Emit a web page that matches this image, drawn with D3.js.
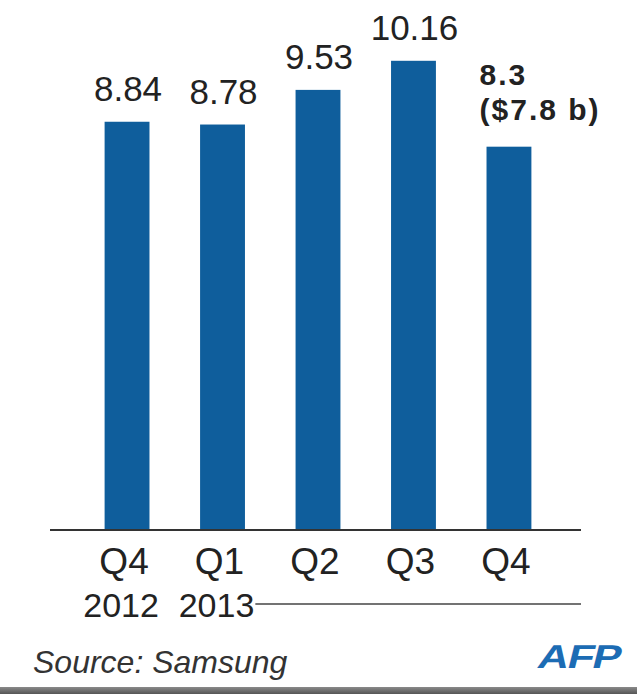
<!DOCTYPE html>
<html>
<head>
<meta charset="utf-8">
<script src="https://d3js.org/d3.v7.min.js"></script>
<style>
  body { margin: 0; background: #fff; }
  text { font-family: "Liberation Sans", Arial, sans-serif; fill: #222; }
</style>
</head>
<body>
<div id="chart"></div>
<script>
// data
var quarters = ["Q4", "Q1", "Q2", "Q3", "Q4"];
var years = ["2012", "2013", "", "", ""];
var profit = [8.84, 8.78, 9.53, 10.16, 8.3];
var valueLabels = ["8.84", "8.78", "9.53", "10.16", "8.3"];
var lastNote = "($7.8 b)";
var source = "Source: Samsung";

var width = 637, height = 694;
var baseY = 530;

var svg = d3.select("#chart")
  .append("svg")
    .attr("width", width)
    .attr("height", height);

var x = d3.scaleBand()
  .domain(d3.range(quarters.length))
  .range([54, 582])
  .padding(0.53);

var y = d3.scaleLinear()
  .domain([0, 11])
  .range([baseY, 22]);

// bars
svg.selectAll("rect.bar")
  .data(profit)
  .enter()
  .append("rect")
    .attr("class", "bar")
    .attr("x", function(d, i) { return x(i); })
    .attr("width", x.bandwidth())
    .attr("y", function(d) { return y(d); })
    .attr("height", function(d) { return y(0) - y(d); })
    .attr("fill", "#0f5e9c");

// baseline
svg.append("line")
  .attr("x1", 50).attr("x2", 581)
  .attr("y1", baseY).attr("y2", baseY)
  .attr("stroke", "#333")
  .attr("stroke-width", 2);

// value labels (last one is bold and left aligned, with a note)
svg.selectAll("text.val")
  .data(profit.slice(0, 4))
  .enter()
  .append("text")
    .attr("class", "val")
    .attr("x", function(d, i) { return x(i) + x.bandwidth() / 2 + 1; })
    .attr("y", function(d) { return y(d) - 21; })
    .attr("text-anchor", "middle")
    .style("font-size", "35px")
    .text(function(d, i) { return valueLabels[i]; });

var last = profit.length - 1;
var noteX = x(last) - 7;
var noteTop = y(profit[last]);
svg.append("text")
  .attr("x", noteX)
  .attr("y", noteTop - 62)
  .style("font-size", "30px")
  .style("font-weight", "bold")
  .style("letter-spacing", "2px")
  .text(valueLabels[last]);
svg.append("text")
  .attr("x", noteX)
  .attr("y", noteTop - 27)
  .style("font-size", "30px")
  .style("font-weight", "bold")
  .style("letter-spacing", "2px")
  .text(lastNote);

// quarter labels
svg.selectAll("text.q")
  .data(quarters)
  .enter()
  .append("text")
    .attr("class", "q")
    .attr("x", function(d, i) { return x(i) + x.bandwidth() / 2 - 3; })
    .attr("y", 574)
    .attr("text-anchor", "middle")
    .style("font-size", "37px")
    .text(function(d) { return d; });

var yearText = svg.selectAll("text.yr")
  .data(years.filter(function(d) { return d; }))
  .enter()
  .append("text")
    .attr("class", "yr")
    .attr("x", function(d, i) { return x(i) + x.bandwidth() / 2 - 6; })
    .attr("y", 617)
    .attr("text-anchor", "middle")
    .style("font-size", "34px")
    .text(function(d) { return d; });

// line after the 2013 label, spanning the 2013 quarters
var lastYear = yearText.nodes()[yearText.size() - 1];
var bb = lastYear.getBBox();
svg.append("line")
  .attr("x1", bb.x + bb.width + 1).attr("x2", 581)
  .attr("y1", 604).attr("y2", 604)
  .attr("stroke", "#444")
  .attr("stroke-width", 1.5);

// source
svg.append("text")
  .attr("x", 33)
  .attr("y", 673)
  .style("font-size", "32px")
  .style("font-style", "italic")
  .style("fill", "#333")
  .text(source);

// AFP logo
svg.append("text")
  .attr("transform", "translate(536,668) skewX(-14) scale(1.3,1)")
  .style("font-size", "33px")
  .style("font-weight", "bold")
  .style("letter-spacing", "-1px")
  .style("fill", "#1c6cb4")
  .text("AFP");

// bottom band
var grad = svg.append("defs").append("linearGradient")
  .attr("id", "band").attr("x1", 0).attr("x2", 0).attr("y1", 0).attr("y2", 1);
grad.append("stop").attr("offset", "0%").attr("stop-color", "#8a8a8a");
grad.append("stop").attr("offset", "100%").attr("stop-color", "#555");
svg.append("rect")
  .attr("x", 0).attr("y", 687)
  .attr("width", width).attr("height", 7)
  .attr("fill", "url(#band)");
</script>
</body>
</html>
